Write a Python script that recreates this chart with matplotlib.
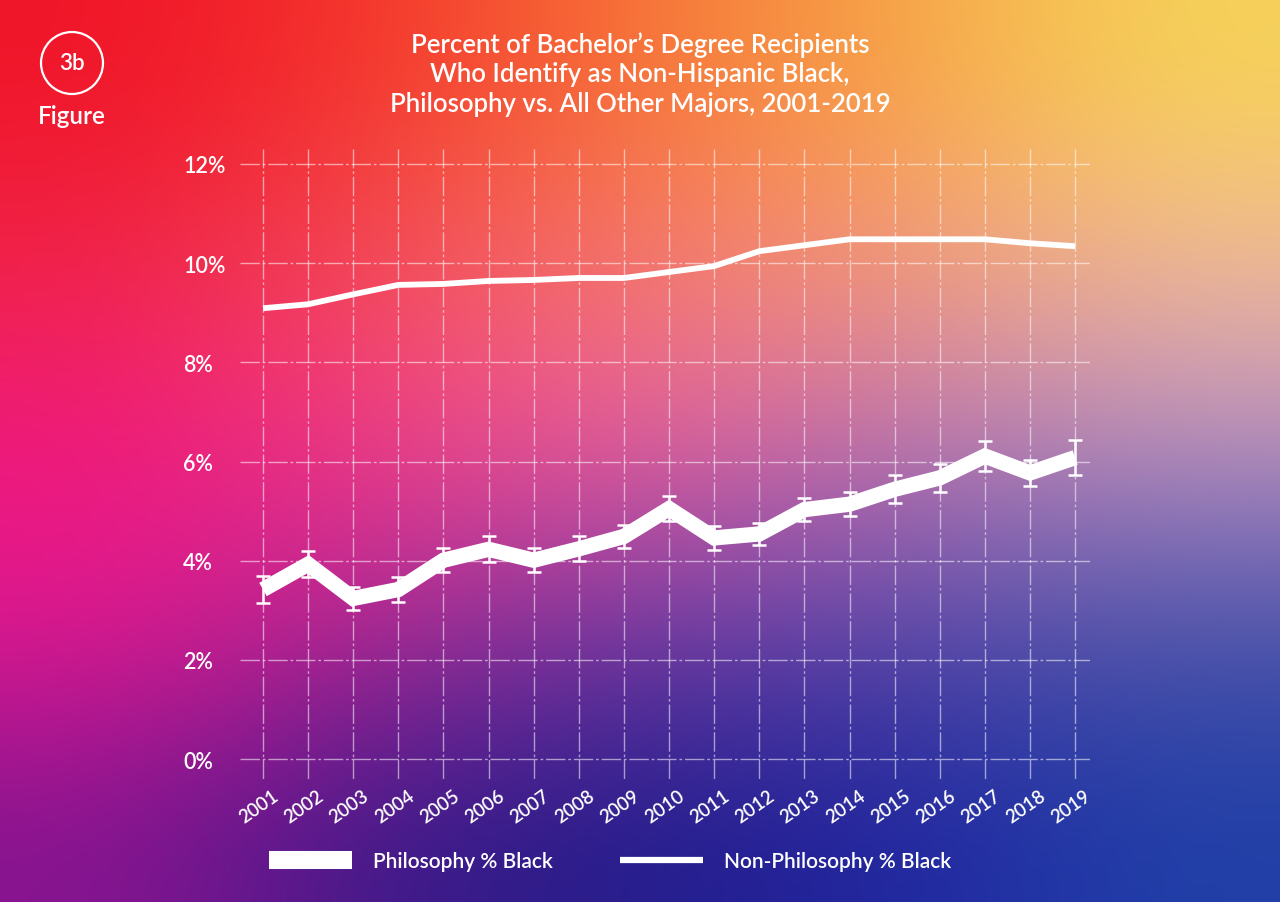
import matplotlib.pyplot as plt
import numpy as np
from matplotlib.patches import Ellipse
from matplotlib.lines import Line2D

# Daten
years = list(range(2001, 2020))
phil_pct = [3.42, 3.93, 3.24, 3.42, 4.01, 4.23, 4.01, 4.24, 4.49, 5.05,
            4.46, 4.54, 5.03, 5.14, 5.44, 5.67, 6.11, 5.77, 6.08]
phil_err = [0.27, 0.26, 0.24, 0.25, 0.24, 0.26, 0.24, 0.25, 0.23, 0.25,
            0.24, 0.22, 0.23, 0.24, 0.28, 0.28, 0.30, 0.27, 0.36]
nonphil_pct = [9.09, 9.17, 9.37, 9.56, 9.58, 9.64, 9.66, 9.70, 9.70, 9.82,
               9.94, 10.24, 10.36, 10.48, 10.48, 10.48, 10.48, 10.40, 10.34]
y_ticks = [0, 2, 4, 6, 8, 10, 12]
y_labels = ['0%', '2%', '4%', '6%', '8%', '10%', '12%']

title = ("Percent of Bachelor\u2019s Degree Recipients\n"
         "Who Identify as Non-Hispanic Black,\n"
         "Philosophy vs. All Other Majors, 2001-2019")

plt.rcParams['font.family'] = ['Lato', 'DejaVu Sans']
plt.rcParams['font.weight'] = 'semibold'

fig = plt.figure(figsize=(12.8, 9.03), dpi=100)

# Hintergrund-Verlauf
bg = np.array([
    ['#f01428', '#f5352c', '#f77535', '#f7a448', '#f6d358'],
    ['#f0244a', '#f3505a', '#f57c72', '#f4987e', '#f2b89c'],
    ['#f0177e', '#f03c8c', '#ea5ca2', '#b872b2', '#b48cc2'],
    ['#e21890', '#a62892', '#6c3aa2', '#5a48a8', '#4a52a8'],
    ['#881490', '#3a1a88', '#221c8a', '#2024a0', '#2040a8'],
])
bg_rgb = np.array([[[int(c[i:i + 2], 16) / 255 for i in (1, 3, 5)] for c in row] for row in bg])
bg_ax = fig.add_axes([0, 0, 1, 1], zorder=-10)
bg_ax.imshow(bg_rgb, aspect='auto', interpolation='bicubic', extent=[0, 1, 0, 1])
bg_ax.axis('off')

# Plotbereich (Pixel: x 240..1090, y 150..780)
W, H = 1280, 903
ax = fig.add_axes([240 / W, 1 - 780 / H, 850 / W, 630 / H])
ax.set_facecolor('none')
ax.set_xlim(2000.49, 2019.33)
ax.set_ylim(-0.40, 12.30)
for s in ax.spines.values():
    s.set_visible(False)

grid_kw = dict(color='white', alpha=0.55, lw=1.0, linestyle=(0, (14, 2, 2, 2)), zorder=1)
for yv in y_ticks:
    ax.axhline(yv, **grid_kw)
for xv in years:
    ax.axvline(xv, **grid_kw)

ax.plot(years, nonphil_pct, color='white', lw=4.2, solid_capstyle='butt', zorder=3)
ax.errorbar(years, phil_pct, yerr=phil_err, fmt='none', ecolor='white',
            elinewidth=1.8, capsize=5, capthick=1.8, zorder=3)
ax.plot(years, phil_pct, color='white', lw=11, solid_joinstyle='miter',
        solid_capstyle='butt', zorder=4)

ax.set_yticks(y_ticks)
ax.set_yticklabels(y_labels, fontsize=15.5, color='white')
for lab in ax.get_yticklabels():
    lab.set_horizontalalignment('left')
ax.tick_params(axis='y', length=0, pad=41)
ax.set_xticks([])
for yr in years:
    ax.text(yr + 0.2, -0.55, str(yr), rotation=35, rotation_mode='anchor',
            ha='right', va='top', fontsize=13.5, color='white')

# Titel
fig.text(640 / W, 1 - 32 / H, title, ha='center', va='top', fontsize=18.5,
         color='white', linespacing=1.22)

# Abzeichen "3b Figure"
fig.add_artist(Ellipse((72 / W, 1 - 64 / H), 62 / W, 62 / H, fill=False,
                       edgecolor='white', lw=1.6))
fig.text(72 / W, 1 - 64 / H, '3b', ha='center', va='center', fontsize=16, color='white')
fig.text(72 / W, 1 - 116 / H, 'Figure', ha='center', va='center', fontsize=17.5, color='white')

# Legende
handles = [Line2D([], [], color='white', lw=13, solid_capstyle='butt'),
           Line2D([], [], color='white', lw=4.5, solid_capstyle='butt')]
leg = fig.legend(handles, ['Philosophy % Black', 'Non-Philosophy % Black'],
                 loc='center', bbox_to_anchor=(610 / W, 1 - 862 / H), ncol=2,
                 frameon=False, fontsize=15, labelcolor='white',
                 handlelength=4.0, handletextpad=1.0, columnspacing=3.2)

plt.savefig('out.png', dpi=100)
